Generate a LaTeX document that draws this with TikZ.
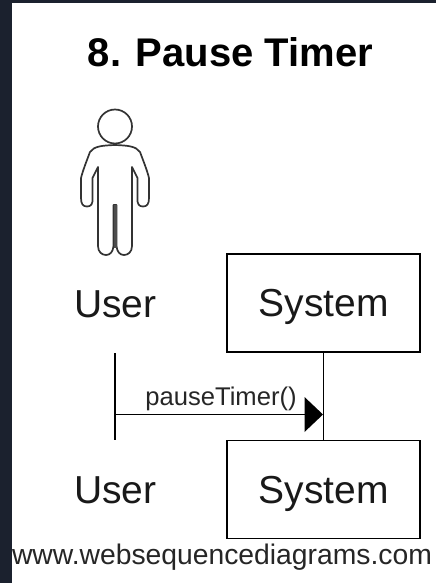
\documentclass[tikz,border=0pt]{standalone}
\usepackage{fontspec}
\setmainfont{Liberation Sans}
\tikzset{
  ln/.style={draw=black,line width=1.8pt},
  boxed/.style={ln,fill=white,minimum width=193pt,minimum height=98pt,inner sep=0pt,text=black!90,font=\fontsize{39}{39}\selectfont},
  plain/.style={inner sep=0pt,text=black!90,font=\fontsize{39}{39}\selectfont},
  actorline/.style={draw=black!80,line width=1.7pt,line join=round,line cap=round}
}
\begin{document}
\begin{tikzpicture}[x=1pt,y=-1pt]
\useasboundingbox (0,0) rectangle (436,583);
\fill[fill={rgb,255:red,27;green,33;blue,46}] (0,0) rectangle (436,583);
\fill[white] (12,3) rectangle (436,583);
\node[inner sep=0pt,font=\bfseries\fontsize{40}{40}\selectfont,text=black] (title) at (230.5,52) {8. Pause Timer};
% actor
\draw[actorline] (115,126.5) circle (17);
\draw[actorline] (115,145)
  .. controls (103,145.5) and (94,146) .. (90,152)
  .. controls (87,160) and (83,170) .. (81,178)
  -- (81,198) .. controls (81,204) and (83,206.5) .. (87,206.5)
  .. controls (91,206.5) and (93,204) .. (92.5,198)
  -- (92.5,178) -- (98,167) -- (98,246)
  .. controls (98,252) and (102,255) .. (106,255)
  .. controls (110,255) and (113,252) .. (113.5,246)
  -- (113.5,205) -- (116.5,205) -- (116.5,246)
  .. controls (117,252) and (120,255) .. (124,255)
  .. controls (128,255) and (132,252) .. (132,246)
  -- (132,167) -- (137.5,178) -- (137.5,198)
  .. controls (137,204) and (139,206.5) .. (143,206.5)
  .. controls (147,206.5) and (149,204) .. (149,198)
  -- (149,178) .. controls (147,170) and (143,160) .. (140,152)
  .. controls (136,146) and (127,145.5) .. (115,145) -- cycle;
\fill[black!70] (113.5,205) rectangle (116.5,248);
\node[plain] (userTop) at (115.5,304) {User};
\node[plain] (userBot) at (115.5,490) {User};
\node[boxed] (sysTop) at (323.5,303) {\raisebox{-4pt}[\height][\depth]{System}};
\node[boxed] (sysBot) at (323.5,489.5) {\raisebox{-4pt}[\height][\depth]{System}};
\coordinate (uA) at (115,353);
\coordinate (uB) at (115,440);
\draw[ln] (uA) -- (uB);
\draw[ln] (sysTop.south) -- (sysBot.north);
\coordinate (mA) at (115,414.5);
\coordinate (mB) at (305,414.5);
\coordinate (mC) at (323,414.5);
\draw[ln] (mA) -- (mB);
\fill[black] (304.5,397) -- (mC) -- (304.5,432) -- cycle;
\node[inner sep=0pt,text=black!85,font=\fontsize{25.6}{26}\selectfont] (msg) at (221,399) {pauseTimer()};
\node[inner sep=0pt,text=black!85,font=\fontsize{28.3}{28}\selectfont] (foot) at (222,557) {www.websequencediagrams.com};
\end{tikzpicture}
\end{document}
